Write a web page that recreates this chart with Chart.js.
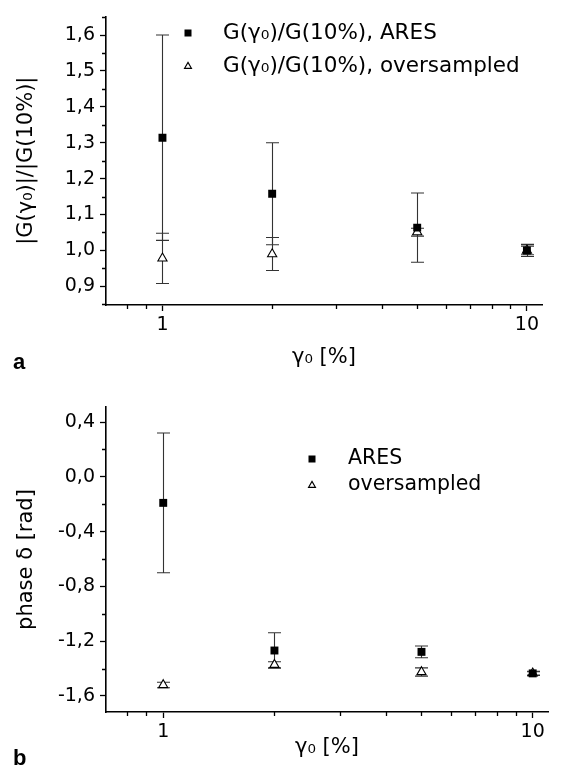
<!DOCTYPE html>
<html><head><meta charset="utf-8">
<script src="https://cdn.jsdelivr.net/npm/chart.js@4.4.1/dist/chart.umd.min.js"></script>
<style>
html,body{margin:0;padding:0;background:#fff;}
#wrap{position:relative;width:564px;height:765px;overflow:hidden;background:#fff;}
canvas{position:absolute;left:0;}
#c1{top:0}
#c2{top:370px}
.lab{position:absolute;font:bold 22px "Liberation Sans",Arial,sans-serif;color:#000;line-height:24px;}
</style></head><body>
<div id="wrap">
<canvas id="c1" width="564" height="370"></canvas>
<canvas id="c2" width="564" height="395"></canvas>
<div class="lab" style="left:13px;top:350px">a</div>
<div class="lab" style="left:13px;top:746px">b</div>
</div>
<script>
// ---- data ----
const gammas = [1, 2, 5, 10];
const xMajorTicks = [1, 10];
const xMinorTicks = [0.8, 0.9, 2, 3, 4, 5, 6, 7, 8, 9];

// panel a: |G(gamma0)|/|G(10%)|
const seriesA = ['G(γ₀)/G(10%), ARES', 'G(γ₀)/G(10%), oversampled'];
const magAres = [1.314, 1.158, 1.0635, 1.0];
const magAresErr = [0.286, 0.142, 0.0965, 0.017];
const magOver = [0.978, 0.99, 1.051, 1.0];
const magOverErr = [0.07, 0.046, 0.011, 0.012];
const yMajorA = [0.9, 1.0, 1.1, 1.2, 1.3, 1.4, 1.5, 1.6];
const yMinorA = [0.85, 0.95, 1.05, 1.15, 1.25, 1.35, 1.45, 1.55, 1.65];

// panel b: phase delta [rad]
const seriesB = ['ARES', 'oversampled'];
const phaseAres = [-0.19, -1.268, -1.278, -1.435];
const phaseAresErr = [0.51, 0.13, 0.043, 0.015];
const phaseOver = [-1.52, -1.372, -1.425, -1.435];
const phaseOverErr = [0.02, 0.022, 0.03, 0.012];
const yMajorB = [-1.6, -1.2, -0.8, -0.4, 0.0, 0.4];
const yMinorB = [-1.4, -1.0, -0.6, -0.2, 0.2];

Chart.defaults.font.family = "'DejaVu Sans', sans-serif";
Chart.defaults.color = '#000';

const fmt = v => (Math.abs(v) < 1e-9 ? 0 : v).toFixed(1).replace('.', ',');
const pts = (xs, ys) => xs.map((x, i) => ({x: x, y: ys[i]}));

const errorBars = {
  id: 'errorBars',
  beforeDatasetsDraw(chart) {
    const {ctx, scales: {x, y}} = chart;
    ctx.save();
    ctx.strokeStyle = '#333';
    ctx.lineWidth = 1.1;
    chart.data.datasets.forEach(ds => {
      ds.data.forEach((p, j) => {
        const e = ds.errors[j];
        const px = Math.round(x.getPixelForValue(p.x)) + 0.5;
        const yt = y.getPixelForValue(p.y + e);
        const yb = y.getPixelForValue(p.y - e);
        const cap = 6.5;
        ctx.beginPath();
        ctx.moveTo(px, yt); ctx.lineTo(px, yb);
        ctx.moveTo(px - cap, yt); ctx.lineTo(px + cap, yt);
        ctx.moveTo(px - cap, yb); ctx.lineTo(px + cap, yb);
        ctx.stroke();
      });
    });
    ctx.restore();
  }
};

function drawMarker(ctx, style, x, y, s) {
  ctx.save();
  if (style === 'rect') {
    ctx.fillStyle = '#000';
    ctx.fillRect(x - s / 2, y - s / 2, s, s);
  } else {
    const h = s * 0.866;
    ctx.fillStyle = '#fff';
    ctx.strokeStyle = '#000';
    ctx.lineWidth = 1.1;
    ctx.beginPath();
    ctx.moveTo(x, y - h * 0.6);
    ctx.lineTo(x + s / 2, y + h * 0.4);
    ctx.lineTo(x - s / 2, y + h * 0.4);
    ctx.closePath();
    ctx.fill(); ctx.stroke();
  }
  ctx.restore();
}

const extras = {
  id: 'extras',
  afterDraw(chart, args, opts) {
    const {ctx, chartArea, scales: {x, y}} = chart;
    ctx.save();
    ctx.strokeStyle = '#000';
    ctx.lineWidth = 1.3;
    ctx.beginPath();
    opts.xMinor.forEach(v => {
      const px = Math.round(x.getPixelForValue(v)) + 0.5;
      ctx.moveTo(px, chartArea.bottom); ctx.lineTo(px, chartArea.bottom + 4);
    });
    opts.yMinor.forEach(v => {
      const py = Math.round(y.getPixelForValue(v)) + 0.5;
      ctx.moveTo(chartArea.left, py); ctx.lineTo(chartArea.left - 4, py);
    });
    ctx.stroke();
    // legend
    const lg = opts.legend;
    ctx.font = lg.size + "px 'DejaVu Sans', sans-serif";
    ctx.fillStyle = '#000';
    ctx.textBaseline = 'middle';
    ctx.textAlign = 'left';
    chart.data.datasets.forEach((ds, i) => {
      const yy = lg.y + i * lg.dy;
      drawMarker(ctx, ds.pointStyle, lg.mx, yy, 7);
      ctx.fillText(ds.label, lg.tx, yy);
    });
    ctx.restore();
  }
};

function makeChart(id, cfg) {
  return new Chart(document.getElementById(id), {
    type: 'scatter',
    data: {
      datasets: [
        {label: cfg.labels[0], data: pts(gammas, cfg.s1), errors: cfg.e1, pointStyle: 'rect',
         pointRadius: 5.6, backgroundColor: '#000', borderColor: '#000', borderWidth: 0, showLine: false},
        {label: cfg.labels[1], data: pts(gammas, cfg.s2), errors: cfg.e2, pointStyle: 'triangle',
         pointRadius: 5.3, backgroundColor: '#fff', borderColor: '#000', borderWidth: 1.1, showLine: false}
      ]
    },
    options: {
      responsive: false, animation: false, events: [],
      layout: {padding: {left: 0, top: cfg.padTop, right: cfg.padRight, bottom: 0}},
      plugins: {
        legend: {display: false}, tooltip: {enabled: false},
        extras: {xMinor: xMinorTicks, yMinor: cfg.yMinor, legend: cfg.legend}
      },
      scales: {
        x: {
          type: 'logarithmic', min: 0.7, max: 11, offset: false,
          afterBuildTicks: s => { s.ticks = xMajorTicks.map(v => ({value: v})); },
          afterFit: s => { s.height = cfg.xHeight; },
          ticks: {font: {size: 19}, padding: 3, maxRotation: 0, autoSkip: false, callback: v => String(v)},
          grid: {display: true, drawOnChartArea: false, drawTicks: true, tickLength: 6, tickColor: '#000', tickWidth: 1.3},
          border: {display: true, color: '#000', width: 1.6},
          title: {display: true, text: 'γ₀ [%]', font: {size: 21}, padding: {top: 0, bottom: cfg.xTitlePad}}
        },
        y: {
          type: 'linear', min: cfg.ymin, max: cfg.ymax,
          afterBuildTicks: s => { s.ticks = cfg.yMajor.map(v => ({value: v})); },
          afterFit: s => { s.width = 106; },
          ticks: {font: {size: 19}, padding: 5, autoSkip: false, callback: v => fmt(v)},
          grid: {display: true, drawOnChartArea: false, drawTicks: true, tickLength: 6, tickColor: '#000', tickWidth: 1.3},
          border: {display: true, color: '#000', width: 1.6},
          title: {display: true, text: cfg.ytitle, font: {size: 21}, padding: {top: 14, bottom: 0}}
        }
      }
    },
    plugins: [errorBars, extras]
  });
}

makeChart('c1', {
  labels: seriesA, s1: magAres, e1: magAresErr, s2: magOver, e2: magOverErr,
  ymin: 0.848, ymax: 1.652, yMajor: yMajorA, yMinor: yMinorA,
  padTop: 12, padRight: 22, xHeight: 65, xTitlePad: 0,
  ytitle: '|G(γ₀)|/|G(10%)|',
  legend: {mx: 188, tx: 223, y: 33, dy: 33, size: 21.5}
});

makeChart('c2', {
  labels: seriesB, s1: phaseAres, e1: phaseAresErr, s2: phaseOver, e2: phaseOverErr,
  ymin: -1.717, ymax: 0.51, yMajor: yMajorB, yMinor: yMinorB,
  padTop: 37, padRight: 16, xHeight: 53, xTitlePad: 5,
  ytitle: 'phase δ [rad]',
  legend: {mx: 312, tx: 348, y: 89, dy: 26, size: 20.5}
});
</script>
</body></html>
